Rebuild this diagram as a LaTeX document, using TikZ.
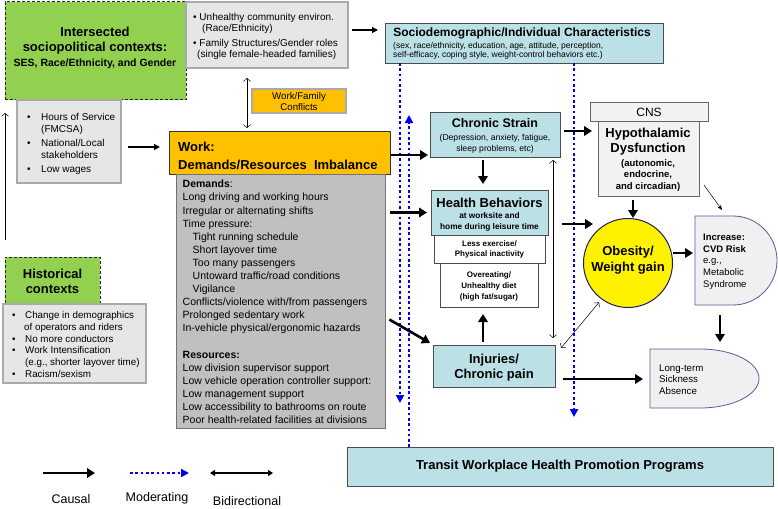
\documentclass[tikz,border=0pt]{standalone}
\usepackage{fontspec}
\setmainfont{Liberation Sans}
\usetikzlibrary{arrows.meta,calc}
\definecolor{grn}{RGB}{146,208,80}
\definecolor{lgray}{RGB}{230,230,230}
\definecolor{lgrayb}{RGB}{170,170,170}
\definecolor{dgray}{RGB}{192,192,192}
\definecolor{hgray}{RGB}{242,242,242}
\definecolor{org}{RGB}{255,192,0}
\definecolor{tealc}{RGB}{187,224,230}
\definecolor{dotblue}{RGB}{0,0,235}
\definecolor{navyb}{RGB}{90,90,150}
\definecolor{navyc}{RGB}{30,30,90}
\definecolor{dfill}{RGB}{240,240,240}
\newcommand\fsz[2]{\fontsize{#1}{#2}\selectfont}
\newcommand\bx[6]{\node[#2, minimum width={(#5)-(#3)}, minimum height={(#6)-(#4)}] (#1) at (#3,#4) {};}
\begin{document}
\begin{tikzpicture}[x=1pt,y=-1pt,
  base/.style={inner sep=0pt, outer sep=0pt, anchor=north west, line width=0.8pt},
  grnbox/.style={base, fill=grn, draw=black!85, dash pattern=on 3pt off 2pt, line width=1pt},
  graybox/.style={base, fill=lgray, draw=lgrayb, line width=1.6pt},
  orgbox/.style={base, fill=org, draw=black!80, line width=1pt},
  wfcbox/.style={base, fill=org, draw=lgrayb, line width=1.6pt},
  tealbox/.style={base, fill=tealc, draw=black!70},
  whitebox/.style={base, fill=white, draw=black!70},
  dbox/.style={base, fill=dgray, draw=black!55, line width=1pt},
  hbox/.style={base, fill=hgray, draw=black!60},
  txt/.style={inner sep=0pt, align=center},
  ltxt/.style={inner sep=0pt, align=left, anchor=west},
  causal/.style={line width=2.6pt, -{Triangle[length=8pt,width=9.5pt]}},
  med/.style={line width=1.2pt, -{Triangle[length=6pt,width=6pt]}},
  thinbi/.style={line width=0.5pt, {Straight Barb[length=3pt,width=7pt]}-{Straight Barb[length=3pt,width=7pt]}},
  thinar/.style={line width=0.5pt, -{Straight Barb[length=3pt,width=7pt]}},
  thinst/.style={line width=0.5pt, -{Stealth[length=5pt,width=4pt]}},
  modr/.style={draw=dotblue, line width=2.6pt, dash pattern=on 2.6pt off 2.7pt, -{Triangle[length=8pt,width=8pt]}},
  legbi/.style={line width=1.6pt, {Triangle[length=5pt,width=6pt]}-{Triangle[length=5pt,width=6pt]}},
]
\useasboundingbox[fill=white] (0,0) rectangle (778,508);

% boxes
\bx{inter}{grnbox}{5}{2}{186}{100}
\bx{topgray}{graybox}{186}{2}{348}{68}
\bx{hours}{graybox}{17}{100}{121}{183}
\bx{hist}{grnbox}{5}{257}{100}{304}
\bx{histlist}{graybox}{3}{304}{146}{383}
\bx{wfc}{wfcbox}{252}{89}{346}{113}
\bx{socio}{tealbox}{385}{23}{663}{63}
\bx{work}{orgbox}{169}{131}{390}{174}
\bx{demands}{dbox}{176}{174}{385}{428}
\bx{chronic}{tealbox}{430}{112}{560}{157}
\bx{health}{tealbox}{431}{190}{548}{235}
\bx{lessex}{whitebox}{434}{235}{545}{263}
\bx{overeat}{whitebox}{440}{263}{538}{307}
\bx{injuries}{tealbox}{433}{345}{555}{387}
\bx{cns}{hbox}{590}{102}{708}{121}
\bx{hypo}{hbox}{598}{121}{699}{196}
\bx{transit}{tealbox}{347}{447}{773}{486}
\node[circle, draw=navyc, line width=1pt, fill=yellow, minimum size=89pt, inner sep=0pt] (obes) at (628,263) {};
\node[base, minimum width=82pt, minimum height=89pt] (cvd) at (695,216) {};
\draw[fill=dfill, draw=navyb, line width=0.8pt] (cvd.north west) -- ++(38,0) arc[start angle=90,end angle=-90,x radius=44pt,y radius=44.5pt] -- (cvd.south west) -- cycle;
\node[base, minimum width=109pt, minimum height=59pt] (long) at (650,349) {};
\draw[fill=dfill, draw=navyb, line width=0.8pt] (long.north west) -- ++(50,0) arc[start angle=90,end angle=-90,x radius=59pt,y radius=29.5pt] -- (long.south west) -- cycle;

% moderating dotted lines
\coordinate (d1e) at (400,403);
\coordinate (d2e) at (409,115);
\coordinate (d3e) at (574,417);
\draw[modr] (socio.south west -| d1e) -- (d1e);
\draw[modr] (transit.north west -| d2e) -- (d2e);
\draw[modr] (socio.south -| d3e) -- (d3e);

% connectors
\draw[thinar, shorten <=17pt, shorten >=13pt] (hist.north west) -- (inter.south west);
\draw[med, shorten <=7pt, shorten >=9pt] ([yshift=-5.5pt]hours.east) -- ([yshift=-5.5pt]hours.east -| work.west);
\draw[thinbi, shorten <=10pt, shorten >=3pt] ([xshift=-20pt]topgray.south) -- ([xshift=-20pt]topgray.south |- work.north);
\draw[med, shorten <=4pt, shorten >=7pt] ([yshift=5pt]topgray.east) -- ([yshift=5pt]topgray.east -| socio.west);
\draw[causal, shorten <=1pt, shorten >=2pt] ([yshift=-2.5pt]work.east) -- ([yshift=-2.5pt]work.east -| chronic.west);
\draw[causal, shorten <=3pt, shorten >=6pt] ([xshift=-12pt]chronic.south) -- ([xshift=-12pt]chronic.south |- health.north);
\draw[causal, shorten <=5pt, shorten >=4pt] (demands.east |- health.west) -- (health.west);
\draw[causal, shorten <=5pt] ([yshift=-16pt]demands.east) -- ([shift={(-3,-2)}]injuries.north west);
\draw[causal, shorten <=3pt, shorten >=7pt] ([xshift=-11pt]injuries.north) -- ([xshift=-11pt]injuries.north |- overeat.south);
\draw[thinbi, shorten <=3pt, shorten >=7pt] ([xshift=-7pt]chronic.south east) -- ([xshift=-7pt]chronic.south east |- injuries.north);
\draw[thinbi, shorten >=4pt] ([shift={(6,3)}]injuries.north east) -- (obes.234);
\draw[causal, shorten <=4pt, shorten >=6pt] ([yshift=3.5pt]chronic.east) -- ([yshift=3.5pt]chronic.east -| hypo.west);
\draw[causal, shorten <=14pt, shorten >=-10pt] ([yshift=-11.5pt]health.east) -- ([yshift=-11.5pt]health.east -| obes.west);
\draw[causal, shorten <=4pt] ([xshift=5pt]obes.north |- hypo.south) -- ([xshift=5pt]obes.north);
\draw[thinst] ([shift={(5,-11)}]hypo.south east) -- ([shift={(27,-6)}]cvd.north west);
\draw[causal, shorten >=2pt] ([yshift=10pt]obes.east) -- ([yshift=10pt]obes.east -| cvd.west);
\draw[causal, shorten <=10pt, shorten >=7pt] ([xshift=-16pt]cvd.south) -- ([xshift=-16pt]cvd.south |- long.north);
\draw[causal, shorten <=8pt, shorten >=7pt] ([yshift=-13pt]injuries.east) -- ([yshift=-13pt]injuries.east -| long.west);

% texts
\node[txt, font=\fsz{13}{15}\bfseries] (intertxt) at (95,48) {Intersected\\sociopolitical contexts:\\{\fsz{10.5}{15}\bfseries SES, Race/Ethnicity, and Gender}};
\node[ltxt, font=\fsz{10}{11}] (toptxt) at (193,36.5) {• Unhealthy community environ.\\\hspace*{9pt}(Race/Ethnicity)\\[4pt]• Family Structures/Gender roles\\\hspace*{4pt}(single female-headed families)};
\node[ltxt, font=\fsz{10}{11.5}] (hourstxt) at (27,144) {\makebox[14pt][l]{•}Hours of Service\\\hspace*{14pt}(FMCSA)\\[3pt]\makebox[14pt][l]{•}National/Local\\\hspace*{14pt}stakeholders\\[3pt]\makebox[14pt][l]{•}Low wages};
\node[txt, font=\fsz{13}{15}\bfseries] (histtxt) at (52.5,281) {Historical\\contexts};
\node[ltxt, font=\fsz{9.8}{11.8}] (histlisttxt) at (12,344.5) {\makebox[13pt][l]{•}Change in demographics\\\hspace*{12pt}of operators and riders\\\makebox[13pt][l]{•}No more conductors\\\makebox[13pt][l]{•}Work Intensification\\\hspace*{13pt}(e.g., shorter layover time)\\\makebox[13pt][l]{•}Racism/sexism};
\node[txt, font=\fsz{9.7}{11}] (wfctxt) at (299,102) {Work/Family\\Conflicts};
\node[txt, font=\fsz{12}{14}\bfseries] (sociohead) at (522,33) {Sociodemographic/Individual Characteristics};
\node[ltxt, font=\fsz{8.5}{9.5}] (sociosub) at (393,51) {(sex, race/ethnicity, education, age, attitude, perception,\\self-efficacy, coping style, weight-control behaviors etc.)};
\node[ltxt, font=\fsz{13}{18}\bfseries] (worktxt) at (178,156) {Work:\\Demands/Resources\ \ Imbalance};
\node[ltxt, font=\fsz{10.5}{13.1}] (demtxt) at (182.5,302) {\textbf{Demands}:\\Long driving and working hours\\Irregular or alternating shifts\\Time pressure:\\\hspace*{10pt}Tight running schedule\\\hspace*{10pt}Short layover time\\\hspace*{10pt}Too many passengers\\\hspace*{10pt}Untoward traffic/road conditions\\\hspace*{10pt}Vigilance\\Conflicts/violence with/from passengers\\Prolonged sedentary work\\In-vehicle physical/ergonomic hazards\\[13.1pt]\textbf{Resources:}\\Low division supervisor support\\Low vehicle operation controller support:\\Low management support\\Low accessibility to bathrooms on route\\Poor health-related facilities at divisions};
\node[txt, font=\fsz{12.5}{14}\bfseries] (chronichead) at (495,123) {Chronic Strain};
\node[txt, font=\fsz{8.6}{11}] (chronicsub) at (495,144) {(Depression, anxiety, fatigue,\\sleep problems, etc)};
\node[txt, font=\fsz{13}{15}\bfseries] (healthhead) at (489.5,203) {Health Behaviors};
\node[txt, font=\fsz{8.3}{10.5}\bfseries] (healthsub) at (489.5,222) {at worksite and\\home during leisure time};
\node[txt, font=\fsz{8}{10}\bfseries] (lessextxt) at (489.5,249.5) {Less exercise/\\Physical inactivity};
\node[txt, font=\fsz{8}{11}\bfseries] (overeattxt) at (489,286) {Overeating/\\Unhealthy diet\\(high fat/sugar)};
\node[txt, font=\fsz{13}{15}\bfseries] (injtxt) at (494,367.5) {Injuries/\\Chronic pain};
\node[txt, font=\fsz{12}{14}] (cnstxt) at (649,112) {CNS};
\node[txt, font=\fsz{13}{15}\bfseries] (hypohead) at (648,142) {Hypothalamic\\Dysfunction};
\node[txt, font=\fsz{9.5}{11.5}\bfseries] (hyposub) at (648,175.5) {(autonomic,\\endocrine,\\and circadian)};
\node[txt, font=\fsz{13}{16}\bfseries] (obestxt) at (628,260) {Obesity/\\Weight gain};
\node[ltxt, font=\fsz{9.5}{11.75}] (cvdtxt) at (703,261.5) {\textbf{Increase:}\\\textbf{CVD Risk}\\e.g.,\\Metabolic\\Syndrome};
\node[ltxt, font=\fsz{9.7}{11.5}] (longtxt) at (659,379.5) {Long-term\\Sickness\\Absence};
\node[txt, font=\fsz{13}{15}\bfseries] (transittxt) at (560,466) {Transit Workplace Health Promotion Programs};

% legend
\coordinate (lc1) at (43,473); \coordinate (lc2) at (95,473);
\coordinate (lm1) at (130,473); \coordinate (lm2) at (189,473);
\coordinate (lb1) at (210,473); \coordinate (lb2) at (273,473);
\draw[causal] (lc1) -- (lc2);
\draw[modr] (lm1) -- (lm2);
\draw[legbi] (lb1) -- (lb2);
\node[txt, font=\fsz{12.5}{14}] (lcaus) at (71,499) {Causal};
\node[txt, font=\fsz{12.5}{14}] (lmod) at (157,498) {Moderating};
\node[txt, font=\fsz{12.5}{14}] (lbid) at (247,501) {Bidirectional};
\end{tikzpicture}
\end{document}
